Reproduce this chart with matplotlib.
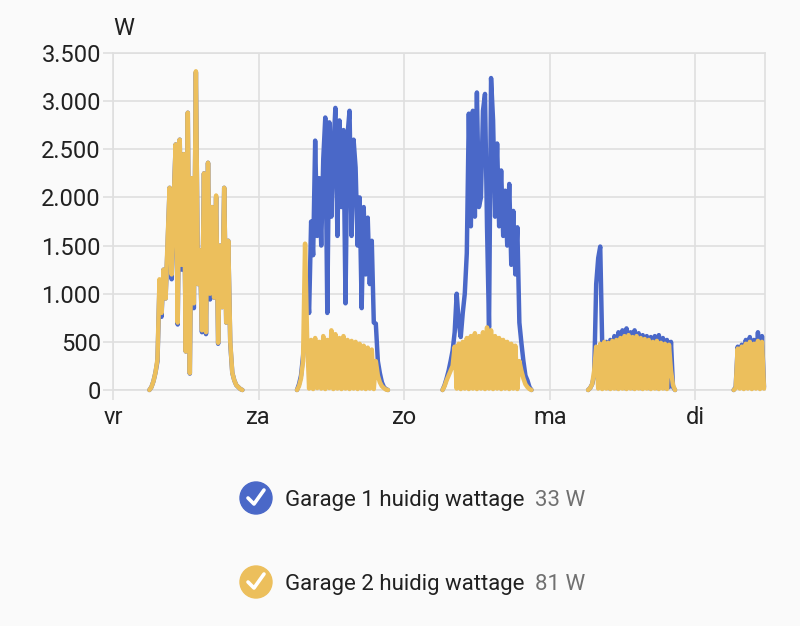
import numpy as np
import matplotlib
matplotlib.use("Agg")
import matplotlib.pyplot as plt
from matplotlib.patches import Circle

plt.rcParams['font.family'] = ['Roboto', 'DejaVu Sans']

# ---------------- data ----------------
day_labels = ["vr", "za", "zo", "ma", "di"]
y_ticks = [0, 500, 1000, 1500, 2000, 2500, 3000, 3500]
y_tick_labels = ["0", "500", "1.000", "1.500", "2.000", "2.500", "3.000", "3.500"]
unit = "W"
series_names = ["Garage 1 huidig wattage", "Garage 2 huidig wattage"]
current_values = ["33 W", "81 W"]
colors = ["#4a68c8", "#ecbf5c"]

sample_step_h = 1 / 3          # one reading every 20 minutes
first_sample_hour = [6.0, 6.333, 6.333, 6.333, 6.333]   # hour of day of first reading
x_end_hours = 107.5            # end of visible window (hours since vr 00:00)

# Garage 1 (W), per day
g1_vr = [0, 30, 90, 180, 300, 1100, 760, 1250, 950, 1500, 2100, 1150, 1950, 2550, 680,
         2600, 1250, 2450, 400, 2880, 170, 2200, 850, 3300, 1100, 1450, 600, 2250, 580,
         2360, 940, 1900, 960, 2000, 480, 1500, 860, 2100, 700, 1550, 480, 180, 100, 50,
         30, 10, 0]
g1_za = [0, 60, 150, 350, 600, 1100, 800, 1750, 1400, 2590, 1600, 2200, 1500, 2400, 2830,
         800, 2780, 1800, 2500, 2930, 1600, 2800, 1900, 2700, 900, 2650, 2900, 1600, 2600,
         2310, 1500, 2000, 850, 1900, 1200, 1790, 1100, 1550, 700, 690, 300, 175, 80, 30,
         10, 0]
g1_zo = [0, 50, 120, 200, 300, 410, 600, 1000, 700, 550, 800, 1000, 1420, 2870, 1700,
         2900, 1800, 3090, 1900, 2000, 2900, 3075, 1700, 650, 3240, 2800, 1800, 2560, 1700,
         2280, 1600, 2070, 1500, 2140, 1300, 1860, 1200, 1690, 700, 490, 300, 150, 100,
         30, 0]
g1_ma = [0, 20, 60, 150, 1100, 1370, 1490, 450, 30, 500, 20, 520, 30, 560, 20, 600, 30,
         620, 20, 640, 30, 600, 20, 620, 30, 590, 20, 570, 30, 560, 20, 550, 30, 560, 20,
         570, 30, 540, 20, 520, 30, 500, 30, 0]
g1_di = [0, 30, 450, 30, 470, 20, 520, 30, 550, 20, 520, 30, 600, 20, 560, 30]

# Garage 2 (W), per day
g2_vr = [0, 30, 90, 180, 320, 1150, 800, 1250, 950, 1550, 2100, 1200, 1950, 2550, 700,
         2600, 1300, 2450, 400, 2880, 175, 2200, 900, 3310, 1100, 1450, 620, 2250, 600,
         2360, 1000, 1900, 960, 2020, 490, 1500, 860, 2100, 700, 1550, 500, 180, 100, 50,
         30, 10, 0]
g2_za = [0, 40, 120, 300, 1520, 550, 15, 520, 10, 540, 20, 500, 15, 560, 10, 520, 20,
         620, 10, 580, 15, 540, 10, 560, 15, 520, 10, 510, 15, 500, 10, 480, 15, 460, 10,
         440, 15, 420, 10, 300, 150, 80, 40, 20, 5, 0]
g2_zo = [0, 40, 100, 150, 200, 250, 450, 15, 480, 10, 500, 15, 540, 10, 560, 15, 590, 10,
         560, 15, 600, 10, 650, 15, 620, 10, 560, 15, 540, 10, 520, 15, 500, 10, 480, 15,
         460, 10, 300, 200, 120, 60, 30, 10, 0]
g2_ma = [0, 20, 60, 200, 450, 15, 480, 10, 500, 15, 490, 10, 510, 15, 520, 10, 540, 15,
         560, 10, 570, 15, 550, 10, 560, 15, 540, 10, 530, 15, 520, 10, 500, 15, 510, 10,
         490, 15, 480, 10, 470, 200, 50, 0]
g2_di = [0, 20, 430, 15, 450, 10, 480, 15, 500, 10, 480, 15, 510, 10, 500, 15]

g1_days = [g1_vr, g1_za, g1_zo, g1_ma, g1_di]
g2_days = [g2_vr, g2_za, g2_zo, g2_ma, g2_di]

# ---------------- figure ----------------
W, H = 800, 626
bg = "#fafafa"
grid_c = "#dfdfdf"
text_c = "#212121"

fig = plt.figure(figsize=(W / 100, H / 100), dpi=100, facecolor=bg)
ax = fig.add_axes([113 / W, 1 - 390 / H, (765 - 113) / W, (390 - 53) / H])
ax.set_facecolor(bg)


def series_xy(days):
    xs, ys = [], []
    for d, vals in enumerate(days):
        t = d * 24 + first_sample_hour[d] + sample_step_h * np.arange(len(vals))
        xs.append(t)
        ys.append(np.asarray(vals, dtype=float))
        xs.append([np.nan])
        ys.append([np.nan])
    return np.concatenate(xs), np.concatenate(ys)


for days, c, z in [(g1_days, colors[0], 3), (g2_days, colors[1], 4)]:
    x, y = series_xy(days)
    ax.plot(x, y, color=c, lw=3.2, solid_joinstyle="round", solid_capstyle="round",
            zorder=z, clip_on=False)

ax.set_xlim(0, x_end_hours)
ax.set_ylim(0, 3500)
ax.set_xticks([24 * i for i in range(len(day_labels))])
ax.set_xticklabels(day_labels)
ax.set_yticks(y_ticks)
ax.set_yticklabels(y_tick_labels)
ax.grid(True, color=grid_c, lw=1.2, zorder=0)
ax.set_axisbelow(True)
for s in ax.spines.values():
    s.set_color(grid_c)
    s.set_linewidth(1.2)
ax.tick_params(axis="both", length=7.2, width=1.2, color=grid_c, labelsize=17,
               labelcolor=text_c)
ax.tick_params(axis="y", pad=1.5)
ax.tick_params(axis="x", pad=4)

# overlay in pixel coordinates for legend and unit
ov = fig.add_axes([0, 0, 1, 1], facecolor="none")
ov.set_xlim(0, W)
ov.set_ylim(H, 0)
ov.axis("off")

ov.text(113, 35, unit, fontsize=17, color=text_c, ha="left", va="baseline")

legend_y = [498, 582]
for i in range(2):
    cy = legend_y[i]
    ov.add_patch(Circle((256, cy), 16, color=colors[i], zorder=5))
    ov.plot([248, 254, 264], [cy, cy + 6, cy - 8], color="white", lw=2.6,
            solid_capstyle="round", solid_joinstyle="round", zorder=6)
    ov.text(285, cy + 8, series_names[i], fontsize=16, color=text_c,
            ha="left", va="baseline")
    ov.text(535, cy + 8, current_values[i], fontsize=16, color="#707070",
            ha="left", va="baseline")

fig.savefig("out.png", dpi=100, facecolor=bg)
